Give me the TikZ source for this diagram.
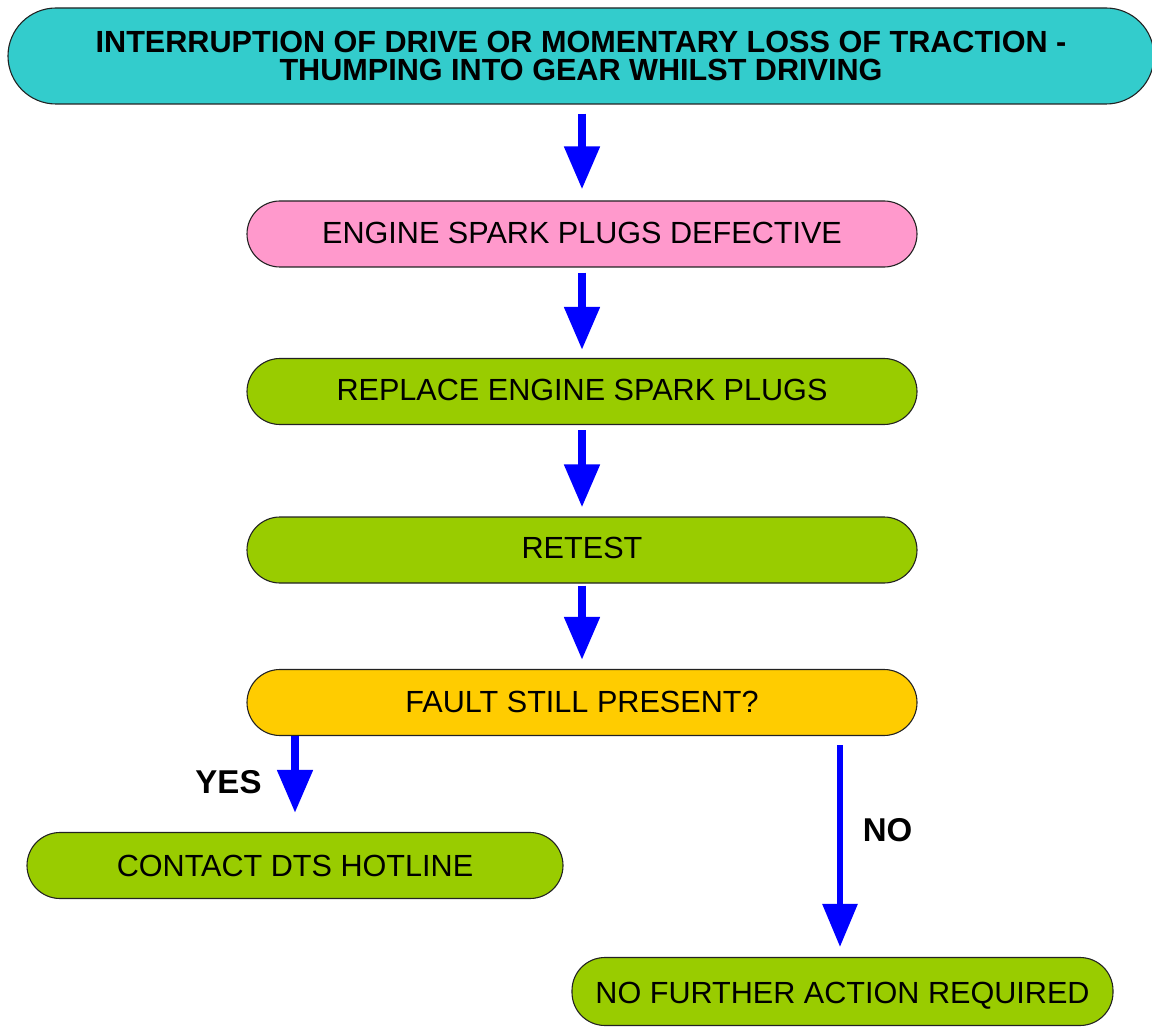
\documentclass[tikz,border=0pt]{standalone}
\usepackage{fontspec}
\setmainfont{Liberation Sans}
\usetikzlibrary{arrows.meta}
\definecolor{cteal}{HTML}{33CCCC}
\definecolor{cpink}{HTML}{FF99CC}
\definecolor{cgreen}{HTML}{99CC00}
\definecolor{cyellow}{HTML}{FFCC00}
\definecolor{cblue}{HTML}{0000FF}
\definecolor{cedge}{HTML}{222222}
\newcommand{\vshift}[2]{\raisebox{#1}[\height][\depth]{#2}}
\begin{document}
\begin{tikzpicture}[x=1pt,y=-1pt,
  pill/.style={draw=cedge, line width=1.1pt, rounded corners=33pt, minimum height=66pt, inner sep=0pt,
    font=\fontsize{30.6}{31}\selectfont, text=black},
  bigpill/.style={draw=cedge, line width=1.1pt, rounded corners=48pt, minimum height=96pt, inner sep=0pt,
    font=\fontsize{30.6}{30}\selectfont\bfseries, align=center, text=black},
  flow/.style={cblue, line width=8pt, -{Triangle[width=34pt,length=43pt]}},
  lbl/.style={font=\fontsize{33}{34}\selectfont\bfseries, text=black, inner sep=0pt}
]
\useasboundingbox (0,0) rectangle (1152,1027);
\begin{scope}
\clip (0,0) rectangle (1152,1027);
\node[bigpill, fill=cteal, minimum width=1146pt] (n1) at (581,56)
  {INTERRUPTION OF DRIVE OR MOMENTARY LOSS OF TRACTION -\\[-2pt]THUMPING INTO GEAR WHILST DRIVING};
\node[pill, fill=cpink, minimum width=670pt] (n2) at (582,234) {\vshift{1pt}{ENGINE SPARK PLUGS DEFECTIVE}};
\node[pill, fill=cgreen, minimum width=670pt] (n3) at (582,391.5) {\vshift{2pt}{REPLACE ENGINE SPARK PLUGS}};
\node[pill, fill=cgreen, minimum width=670pt] (n4) at (582,550) {\vshift{2pt}{RETEST}};
\node[pill, fill=cyellow, minimum width=670pt] (n5) at (582,702.5) {\vshift{1pt}{FAULT STILL PRESENT?}};
\node[pill, fill=cgreen, minimum width=536pt] (n6) at (295,865.5) {CONTACT DTS HOTLINE};
\node[pill, fill=cgreen, minimum width=541pt, minimum height=68pt] (n7) at (842.5,991.5) {\vshift{-4pt}{NO FURTHER ACTION REQUIRED}};
\end{scope}

\draw[flow, shorten <=9pt, shorten >=11pt] (n1.south -| n2.north) -- (n2.north);
\draw[flow, shorten <=5pt, shorten >=8pt] (n2.south) -- (n3.north);
\draw[flow, shorten <=5pt, shorten >=9pt] (n3.south) -- (n4.north);
\draw[flow, shorten <=2pt, shorten >=9pt] (n4.south) -- (n5.north);
\draw[flow, shorten >=19pt] (n5.south -| n6.north) -- (n6.north);
\coordinate (nostart) at (840,745);
\draw[flow, line width=6pt, shorten >=10pt] (nostart) -- (nostart |- n7.north);

\node[lbl] (yes) at (228.5,782) {YES};
\node[lbl] (no) at (887.5,830) {NO};
\end{tikzpicture}
\end{document}
